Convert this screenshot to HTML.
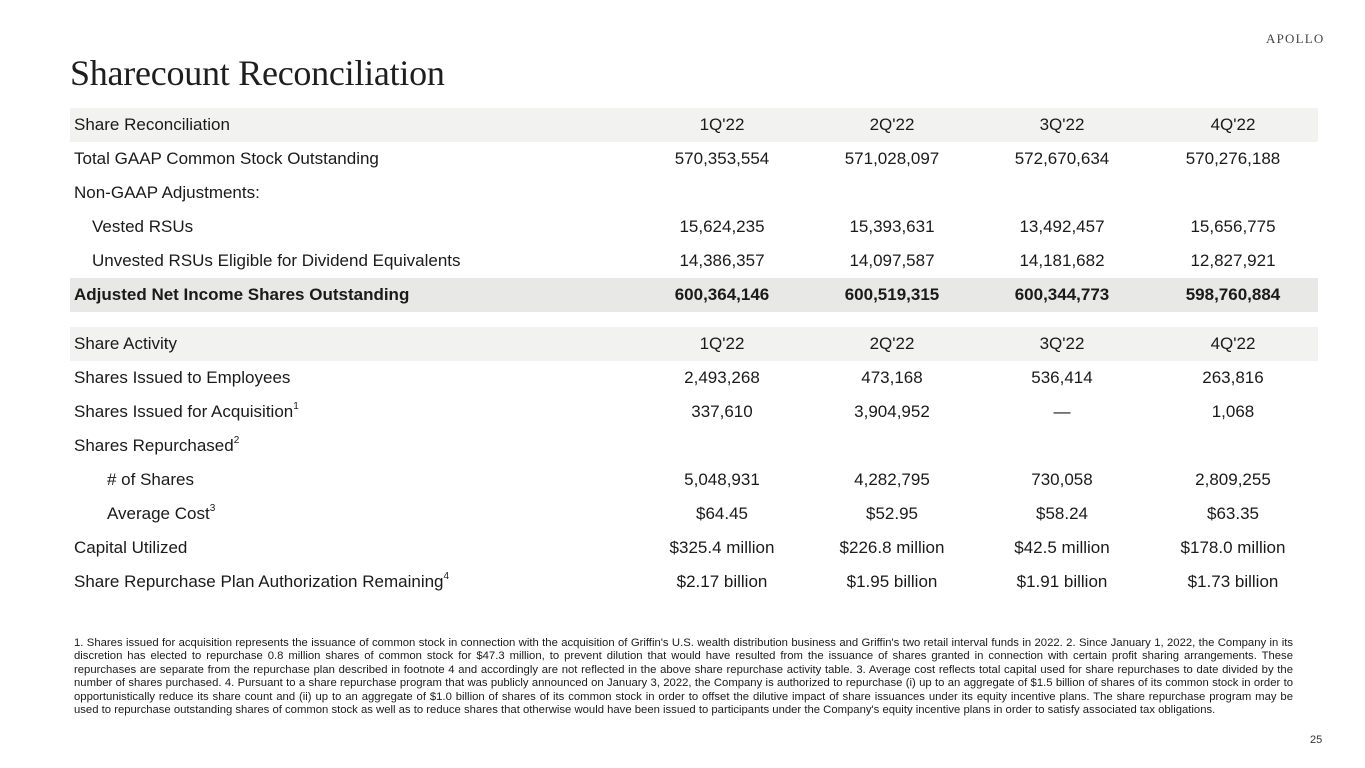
<!DOCTYPE html>
<html>
<head>
<meta charset="utf-8">
<style>
  html, body { margin:0; padding:0; }
  body { width:1365px; height:768px; background:#ffffff; position:relative; overflow:hidden;
         font-family:"Liberation Sans", Arial, sans-serif; color:#1a1a1a; }
  .title { position:absolute; left:70px; top:55px; font-family:"Liberation Serif", serif; font-size:36px;
           line-height:36px; color:#1e1e1e; letter-spacing:-0.25px; white-space:nowrap; }
  .logo { position:absolute; left:1266px; top:31px; font-family:"Liberation Serif", serif; font-size:13px;
          line-height:16px; letter-spacing:1.2px; color:#444; white-space:nowrap; }
  .row { position:absolute; left:70px; width:1248px; height:34px; font-size:17px; line-height:34px; white-space:nowrap; }
  .row.h { background:#f2f2f1; }
  .row.b { background:#e8e8e7; font-weight:bold; }
  .row .l { position:absolute; left:4px; top:0; }
  .row .l.i1 { left:22px; }
  .row .l.i2 { left:37px; }
  .row .c { position:absolute; top:0; width:200px; text-align:center; }
  .c1 { left:552px; } .c2 { left:722px; } .c3 { left:892px; } .c4 { left:1063px; }
  sup { font-size:10px; line-height:0; position:relative; top:-1px; vertical-align:super; }
  .fn { position:absolute; left:74px; top:637px; width:1219px; font-size:11.3px; line-height:13.4px; color:#1a1a1a; }
  .fn div { white-space:nowrap; text-align:justify; text-align-last:justify; }
  .fn div.last { text-align-last:left; }
  .pg { position:absolute; left:1310px; top:733px; font-size:11px; line-height:14px; color:#333; }
</style>
</head>
<body>
<div class="title">Sharecount Reconciliation</div>
<div class="logo">APOLLO</div>

<div class="row h" style="top:108px"><span class="l">Share Reconciliation</span><span class="c c1">1Q'22</span><span class="c c2">2Q'22</span><span class="c c3">3Q'22</span><span class="c c4">4Q'22</span></div>
<div class="row" style="top:142px"><span class="l">Total GAAP Common Stock Outstanding</span><span class="c c1">570,353,554</span><span class="c c2">571,028,097</span><span class="c c3">572,670,634</span><span class="c c4">570,276,188</span></div>
<div class="row" style="top:176px"><span class="l">Non-GAAP Adjustments:</span></div>
<div class="row" style="top:210px"><span class="l i1">Vested RSUs</span><span class="c c1">15,624,235</span><span class="c c2">15,393,631</span><span class="c c3">13,492,457</span><span class="c c4">15,656,775</span></div>
<div class="row" style="top:244px"><span class="l i1">Unvested RSUs Eligible for Dividend Equivalents</span><span class="c c1">14,386,357</span><span class="c c2">14,097,587</span><span class="c c3">14,181,682</span><span class="c c4">12,827,921</span></div>
<div class="row b" style="top:278px"><span class="l">Adjusted Net Income Shares Outstanding</span><span class="c c1">600,364,146</span><span class="c c2">600,519,315</span><span class="c c3">600,344,773</span><span class="c c4">598,760,884</span></div>

<div class="row h" style="top:327px"><span class="l">Share Activity</span><span class="c c1">1Q'22</span><span class="c c2">2Q'22</span><span class="c c3">3Q'22</span><span class="c c4">4Q'22</span></div>
<div class="row" style="top:361px"><span class="l">Shares Issued to Employees</span><span class="c c1">2,493,268</span><span class="c c2">473,168</span><span class="c c3">536,414</span><span class="c c4">263,816</span></div>
<div class="row" style="top:395px"><span class="l">Shares Issued for Acquisition<sup>1</sup></span><span class="c c1">337,610</span><span class="c c2">3,904,952</span><span class="c c3">—</span><span class="c c4">1,068</span></div>
<div class="row" style="top:429px"><span class="l">Shares Repurchased<sup>2</sup></span></div>
<div class="row" style="top:463px"><span class="l i2"># of Shares</span><span class="c c1">5,048,931</span><span class="c c2">4,282,795</span><span class="c c3">730,058</span><span class="c c4">2,809,255</span></div>
<div class="row" style="top:497px"><span class="l i2">Average Cost<sup>3</sup></span><span class="c c1">$64.45</span><span class="c c2">$52.95</span><span class="c c3">$58.24</span><span class="c c4">$63.35</span></div>
<div class="row" style="top:531px"><span class="l">Capital Utilized</span><span class="c c1">$325.4 million</span><span class="c c2">$226.8 million</span><span class="c c3">$42.5 million</span><span class="c c4">$178.0 million</span></div>
<div class="row" style="top:565px"><span class="l">Share Repurchase Plan Authorization Remaining<sup>4</sup></span><span class="c c1">$2.17 billion</span><span class="c c2">$1.95 billion</span><span class="c c3">$1.91 billion</span><span class="c c4">$1.73 billion</span></div>

<div class="fn">
  <div>1. Shares issued for acquisition represents the issuance of common stock in connection with the acquisition of Griffin's U.S. wealth distribution business and Griffin's two retail interval funds in 2022. 2. Since January 1, 2022, the Company in its</div>
  <div>discretion has elected to repurchase 0.8 million shares of common stock for $47.3 million, to prevent dilution that would have resulted from the issuance of shares granted in connection with certain profit sharing arrangements. These</div>
  <div>repurchases are separate from the repurchase plan described in footnote 4 and accordingly are not reflected in the above share repurchase activity table. 3. Average cost reflects total capital used for share repurchases to date divided by the</div>
  <div>number of shares purchased. 4. Pursuant to a share repurchase program that was publicly announced on January 3, 2022, the Company is authorized to repurchase (i) up to an aggregate of $1.5 billion of shares of its common stock in order to</div>
  <div>opportunistically reduce its share count and (ii) up to an aggregate of $1.0 billion of shares of its common stock in order to offset the dilutive impact of share issuances under its equity incentive plans. The share repurchase program may be</div>
  <div class="last">used to repurchase outstanding shares of common stock as well as to reduce shares that otherwise would have been issued to participants under the Company's equity incentive plans in order to satisfy associated tax obligations.</div>
</div>

<div class="pg">25</div>
</body>
</html>
